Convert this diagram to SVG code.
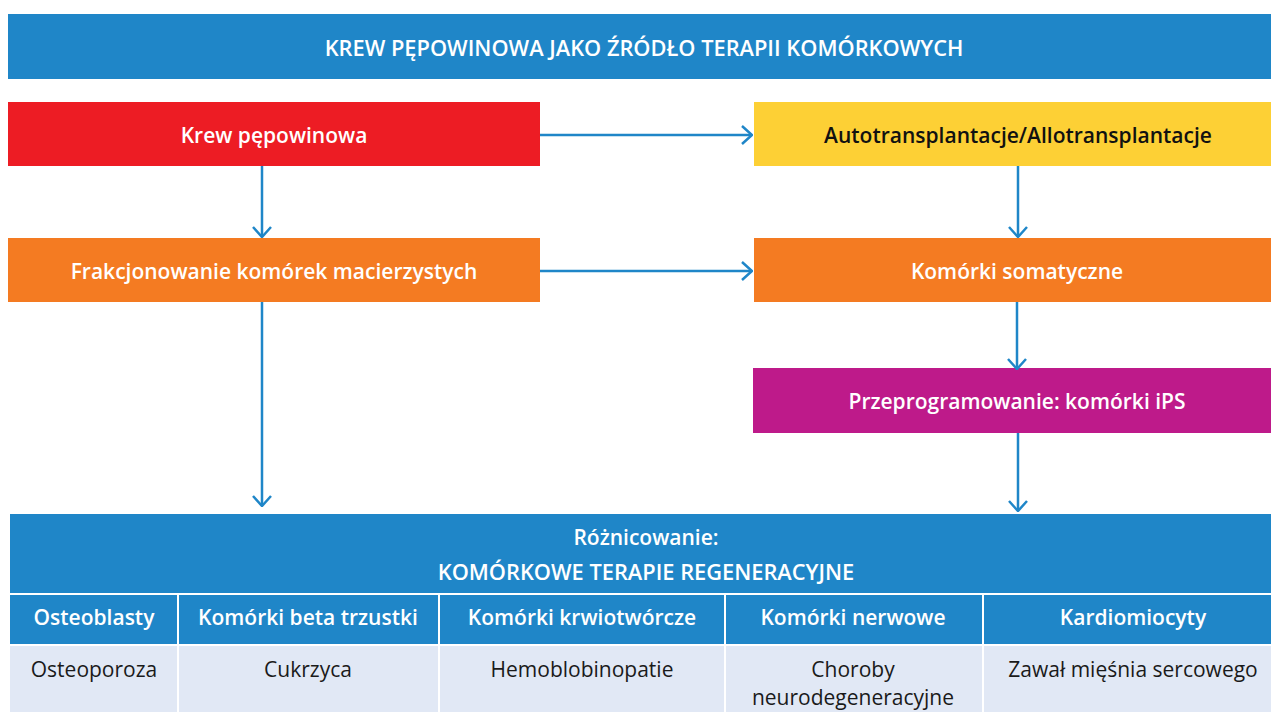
<svg xmlns="http://www.w3.org/2000/svg" width="1271" height="712" viewBox="0 0 1271 712">
<defs>
<style>
.t{font-family:"Open Sans","Noto Sans",sans-serif;fill:#fff;text-anchor:middle;dominant-baseline:central}
.b{font-weight:600;font-size:21px}
.h{font-weight:600;font-size:21.8px}
.n{font-size:21px;fill:#1a1a1a}
.c{stroke:#1f86c8;stroke-width:2.5;fill:none}
</style>
<marker id="ah" viewBox="0 0 12 20" refX="11" refY="10" markerWidth="12" markerHeight="20" markerUnits="userSpaceOnUse" orient="auto">
<path d="M1,1 L11,10 L1,19" fill="none" stroke="#1f86c8" stroke-width="2.5"/>
</marker>
</defs>
<rect width="1271" height="712" fill="#fff"/>
<g id="title">
<rect x="8" y="14" width="1263" height="65" fill="#1f86c8"/>
<text class="t h" x="644" y="47">KREW PĘPOWINOWA JAKO ŹRÓDŁO TERAPII KOMÓRKOWYCH</text>
</g>
<g id="krew">
<rect x="8" y="102" width="532" height="64" fill="#ed1c24"/>
<text class="t b" x="274" y="135">Krew pępowinowa</text>
</g>
<g id="auto">
<rect x="754" y="102" width="517" height="64" fill="#fdd035"/>
<text class="t b" x="1018" y="135" style="fill:#111">Autotransplantacje/Allotransplantacje</text>
</g>
<g id="frak">
<rect x="8" y="238" width="532" height="64" fill="#f47b22"/>
<text class="t b" x="274" y="271">Frakcjonowanie komórek macierzystych</text>
</g>
<g id="soma">
<rect x="754" y="238" width="517" height="64" fill="#f47b22"/>
<text class="t b" x="1017" y="271">Komórki somatyczne</text>
</g>
<g id="ips">
<rect x="753" y="368" width="518" height="65" fill="#be1a8a"/>
<text class="t b" x="1017" y="401">Przeprogramowanie: komórki iPS</text>
</g>
<g id="table">
<rect x="10" y="514" width="1261" height="79" fill="#1f86c8"/>
<text class="t b" x="646" y="537">Różnicowanie:</text>
<text class="t h" x="646" y="571">KOMÓRKOWE TERAPIE REGENERACYJNE</text>
<g fill="#1f86c8">
<rect x="10" y="595" width="167" height="49"/>
<rect x="179" y="595" width="259" height="49"/>
<rect x="440" y="595" width="284" height="49"/>
<rect x="726" y="595" width="256" height="49"/>
<rect x="984" y="595" width="287" height="49"/>
</g>
<g fill="#e1e8f5">
<rect x="10" y="646" width="167" height="66"/>
<rect x="179" y="646" width="259" height="66"/>
<rect x="440" y="646" width="284" height="66"/>
<rect x="726" y="646" width="256" height="66"/>
<rect x="984" y="646" width="287" height="66"/>
</g>
<text class="t b" x="94" y="617">Osteoblasty</text>
<text class="t b" x="308" y="617">Komórki beta trzustki</text>
<text class="t b" x="582" y="617">Komórki krwiotwórcze</text>
<text class="t b" x="853" y="617">Komórki nerwowe</text>
<text class="t b" x="1133" y="617">Kardiomiocyty</text>
<text class="t n" x="94" y="669">Osteoporoza</text>
<text class="t n" x="308" y="669">Cukrzyca</text>
<text class="t n" x="582" y="669">Hemoblobinopatie</text>
<text class="t n" x="853" y="669">Choroby</text>
<text class="t n" x="853" y="697">neurodegeneracyjne</text>
<text class="t n" x="1133" y="669">Zawał mięśnia sercowego</text>
</g>
<g id="connectors">
<line class="c" x1="540" y1="135" x2="752" y2="135" marker-end="url(#ah)"/>
<line class="c" x1="540" y1="271" x2="752" y2="271" marker-end="url(#ah)"/>
<line class="c" x1="262" y1="166" x2="262" y2="237" marker-end="url(#ah)"/>
<line class="c" x1="1018" y1="166" x2="1018" y2="237" marker-end="url(#ah)"/>
<line class="c" x1="262" y1="302" x2="262" y2="506" marker-end="url(#ah)"/>
<line class="c" x1="1017" y1="302" x2="1017" y2="369" marker-end="url(#ah)"/>
<line class="c" x1="1018" y1="433" x2="1018" y2="511" marker-end="url(#ah)"/>
</g>
</svg>
